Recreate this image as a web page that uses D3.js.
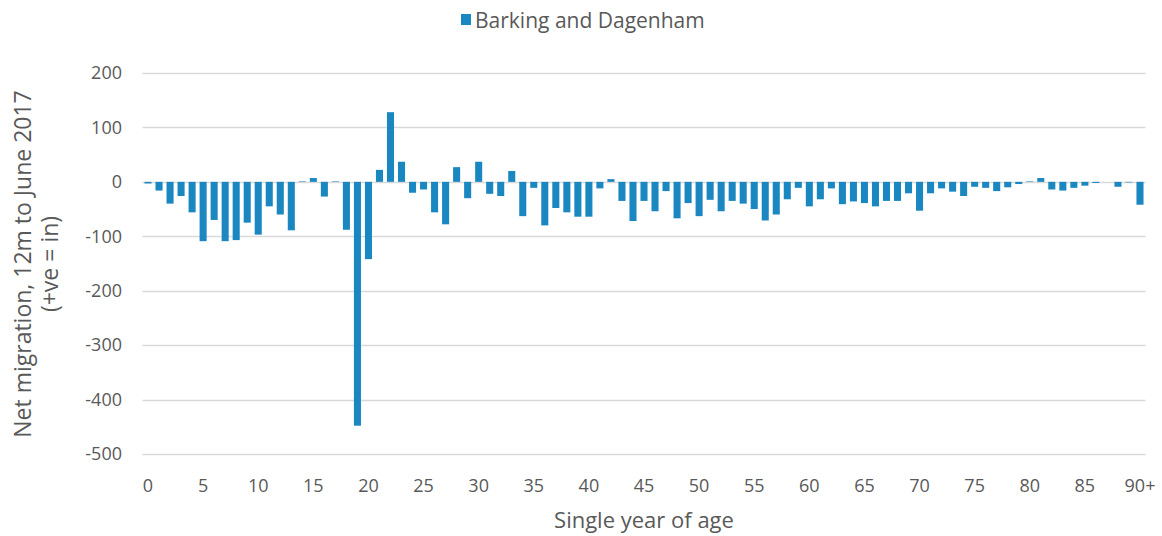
<!DOCTYPE html>
<html>
<head>
<meta charset="utf-8">
<script src="https://cdn.jsdelivr.net/npm/d3@7"></script>
<style>
  body { margin: 0; background: #fff; }
  svg text { font-family: "Open Sans", sans-serif; fill: #595959; }
</style>
</head>
<body>
<div class="chart"></div>
<script>
"use strict";
(function(){

// ages 0..89 then 90+
var ages = d3.range(0, 90).map(String).concat(["90+"]);

var netMigration = [
  -3, -16, -40, -26, -56, -109, -70, -109, -107, -75,
  -97, -45, -60, -89, 1, 7, -27, 1, -88, -448,
  -142, 22, 128, 37, -20, -14, -56, -78, 27, -30,
  37, -22, -26, 20, -63, -11, -80, -48, -56, -64,
  -64, -12, 5, -35, -72, -35, -54, -17, -67, -39,
  -63, -33, -54, -35, -40, -50, -71, -60, -32, -11,
  -45, -32, -12, -41, -36, -39, -45, -35, -35, -21,
  -53, -21, -12, -18, -26, -9, -11, -17, -10, -4,
  1, 7, -14, -16, -11, -7, -2, 0, -9, -1,
  -42
];

var yTicks = [-500, -400, -300, -200, -100, 0, 100, 200];
var xTickLabels = ["0","5","10","15","20","25","30","35","40","45","50","55","60","65","70","75","80","85","90+"];
var seriesName = "Barking and Dagenham";

var data = ages.map(function(a, i){ return {age: a, value: netMigration[i]}; });

var width = 1162;
var height = 536;
var left = 142.5, right = 1145.5, top = 73, bottom = 454;

var svg = d3.select('.chart')
            .append('svg')
            .attr('width', width)
            .attr('height', height);

var x = d3.scaleBand().domain(ages).range([left, right]).paddingInner(0.36).paddingOuter(0.18);
var y = d3.scaleLinear().domain([-500, 200]).range([bottom, top]);

// gridlines
svg.append('g')
   .selectAll('line')
   .data(yTicks)
   .enter().append('line')
   .attr('x1', left).attr('x2', right)
   .attr('y1', function(d){ return Math.round(y(d)) + 0.5; })
   .attr('y2', function(d){ return Math.round(y(d)) + 0.5; })
   .attr('stroke', '#d9d9d9')
   .attr('stroke-width', 1.3);

// y axis labels (plain hyphen like the original)
var yAxis = d3.axisLeft(y).tickValues(yTicks).tickSize(0).tickPadding(0)
              .tickFormat(function(d){ return String(d); });
svg.append('g')
   .attr('transform', 'translate(122,0)')
   .call(yAxis)
   .call(function(g){ g.select('.domain').remove(); })
   .selectAll('text')
   .style('font-size', '18px')
   .attr('fill', '#595959');

// x axis labels
var xAxis = d3.axisBottom(x)
              .tickValues(ages.filter(function(a){ return xTickLabels.indexOf(a) >= 0; }))
              .tickSize(0).tickPadding(0);
svg.append('g')
   .attr('transform', 'translate(0,' + (bottom + 25) + ')')
   .call(xAxis)
   .call(function(g){ g.select('.domain').remove(); })
   .selectAll('text')
   .style('font-size', '18px')
   .attr('fill', '#595959');

// bars
svg.append('g')
   .selectAll('rect')
   .data(data)
   .enter().append('rect')
   .attr('x', function(d){ return x(d.age); })
   .attr('width', x.bandwidth())
   .attr('y', function(d){ return y(Math.max(0, d.value)); })
   .attr('height', function(d){ return Math.abs(y(d.value) - y(0)); })
   .attr('fill', '#1a87c1');

// axis titles
svg.append('text')
   .attr('x', 644)
   .attr('y', 528)
   .attr('text-anchor', 'middle')
   .style('font-size', '22px')
   .text('Single year of age');

var yt = svg.append('text')
   .attr('transform', 'translate(0,264) rotate(-90)')
   .attr('text-anchor', 'middle')
   .style('font-size', '23px');
yt.append('tspan').attr('x', 0).attr('y', 31).text('Net migration, 12m to June 2017');
yt.append('tspan').attr('x', 0).attr('y', 58).text('(+ve = in)');

// legend
var legend = svg.append('g');
legend.append('rect')
      .attr('x', 461).attr('y', 14)
      .attr('width', 10).attr('height', 11)
      .attr('fill', '#1a87c1');
legend.append('text')
      .attr('x', 475).attr('y', 28)
      .style('font-size', '21px')
      .text(seriesName);

})();
</script>
</body>
</html>
